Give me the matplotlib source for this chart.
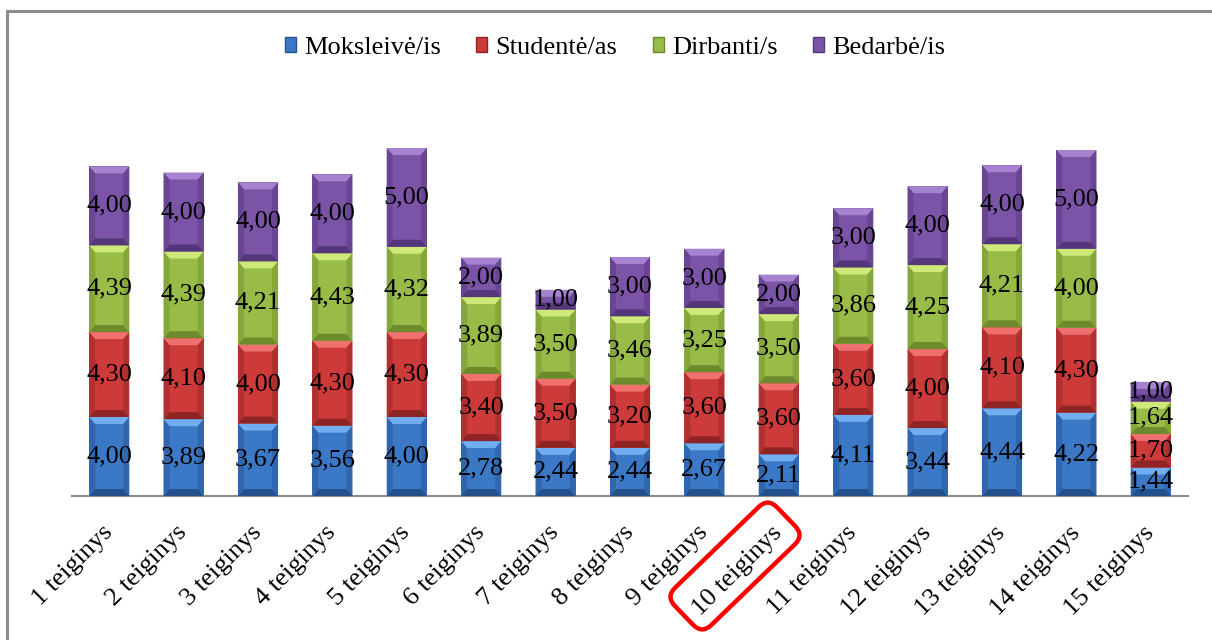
import matplotlib
matplotlib.use("Agg")
import matplotlib.pyplot as plt
from matplotlib.patches import Polygon, Rectangle, FancyBboxPatch
from matplotlib.transforms import Affine2D
import numpy as np

plt.rcParams['font.family'] = ['Liberation Serif', 'DejaVu Serif']

categories = [f"{i} teiginys" for i in range(1, 16)]
series_names = ["Moksleivė/is", "Studentė/as", "Dirbanti/s", "Bedarbė/is"]
moksleive = [4.00, 3.89, 3.67, 3.56, 4.00, 2.78, 2.44, 2.44, 2.67, 2.11, 4.11, 3.44, 4.44, 4.22, 1.44]
studente = [4.30, 4.10, 4.00, 4.30, 4.30, 3.40, 3.50, 3.20, 3.60, 3.60, 3.60, 4.00, 4.10, 4.30, 1.70]
dirbanti = [4.39, 4.39, 4.21, 4.43, 4.32, 3.89, 3.50, 3.46, 3.25, 3.50, 3.86, 4.25, 4.21, 4.00, 1.64]
bedarbe = [4.00, 4.00, 4.00, 4.00, 5.00, 2.00, 1.00, 3.00, 3.00, 2.00, 3.00, 4.00, 4.00, 5.00, 1.00]
series = [moksleive, studente, dirbanti, bedarbe]

face = ["#3b78c5", "#cc3a3a", "#99bb48", "#7b54a8"]
light = ["#72adf0", "#f07070", "#cfe87a", "#a583d0"]
side = ["#2f66ad", "#b03030", "#85a63a", "#694594"]
dark = ["#23508a", "#8e2424", "#6d8a2c", "#54377a"]

W, H = 1212, 640
fig = plt.figure(figsize=(W / 100, H / 100), dpi=100)
ax_l, ax_r, ax_b, ax_t = 72, 1188, 496, 102
ax = fig.add_axes([ax_l / W, 1 - ax_b / H, (ax_r - ax_l) / W, (ax_b - ax_t) / H])

n = len(categories)
x = np.arange(n)
ymax = 19.95
ax.set_xlim(-0.5, n - 0.5)
ax.set_ylim(0, ymax)
bw = 0.54

px_x = (ax_r - ax_l) / n      # pixels per x unit
px_y = (ax_b - ax_t) / ymax   # pixels per y unit
bev_x, bev_y = 6, 7
dx = bev_x / px_x
dy = bev_y / px_y

bottom = np.zeros(n)
for si, vals in enumerate(series):
    vals = np.array(vals)
    for i in range(n):
        x0, x1 = x[i] - bw / 2, x[i] + bw / 2
        y0, y1 = bottom[i], bottom[i] + vals[i]
        ax.add_patch(Rectangle((x0, y0), bw, vals[i], facecolor=face[si], edgecolor='none', zorder=2))
        # bevels
        ax.add_patch(Polygon([(x0, y1), (x1, y1), (x1 - dx, y1 - dy), (x0 + dx, y1 - dy)],
                             closed=True, facecolor=light[si], edgecolor='none', zorder=3))
        ax.add_patch(Polygon([(x0, y0), (x1, y0), (x1 - dx, y0 + dy), (x0 + dx, y0 + dy)],
                             closed=True, facecolor=dark[si], edgecolor='none', zorder=3))
        ax.add_patch(Polygon([(x0, y0), (x0, y1), (x0 + dx, y1 - dy), (x0 + dx, y0 + dy)],
                             closed=True, facecolor=side[si], edgecolor='none', zorder=3))
        ax.add_patch(Polygon([(x1, y0), (x1, y1), (x1 - dx, y1 - dy), (x1 - dx, y0 + dy)],
                             closed=True, facecolor=side[si], edgecolor='none', zorder=3))
        ax.text(x[i], (y0 + y1) / 2, f"{vals[i]:.2f}".replace('.', ','), ha='center', va='center',
                fontsize=19, color='black', zorder=5)
    bottom += vals

for s in ['top', 'right', 'left']:
    ax.spines[s].set_visible(False)
ax.spines['bottom'].set_color('#8c8c8c')
ax.spines['bottom'].set_linewidth(1.5)
ax.set_yticks([])
ax.set_xticks(x)
ax.set_xticklabels(categories, rotation=45, ha='right', va='center', rotation_mode='anchor', fontsize=19)
ax.tick_params(axis='x', length=0, pad=24)

# legend
handles = [Rectangle((0, 0), 1, 1, facecolor=face[i], edgecolor=dark[i]) for i in range(4)]
fig.legend(handles, series_names, loc='center', bbox_to_anchor=(615 / W, 1 - 48 / H), ncol=4,
           frameon=False, fontsize=19, handlelength=0.42, handleheight=0.5, handletextpad=0.3,
           columnspacing=1.35)

# frame
fig.patches.append(Rectangle((7 / W, -0.1), 1.1, 1 - 11 / H + 0.1, transform=fig.transFigure,
                             facecolor='none', edgecolor='#8c8c8c', linewidth=2.2, zorder=0))

# red highlight box around "10 teiginys"
cx, cy = 735, H - 566
bw_px, bh_px = 142, 52
tr = Affine2D().rotate_deg_around(cx, cy, 44) + Affine2D().scale(1 / W, 1 / H) + fig.transFigure
box = FancyBboxPatch((cx - bw_px / 2, cy - bh_px / 2), bw_px, bh_px,
                     boxstyle='round,pad=0,rounding_size=13', transform=tr,
                     facecolor='none', edgecolor='#ff0000', linewidth=3.2, zorder=10)
fig.patches.append(box)

fig.savefig("out.png", dpi=100)
